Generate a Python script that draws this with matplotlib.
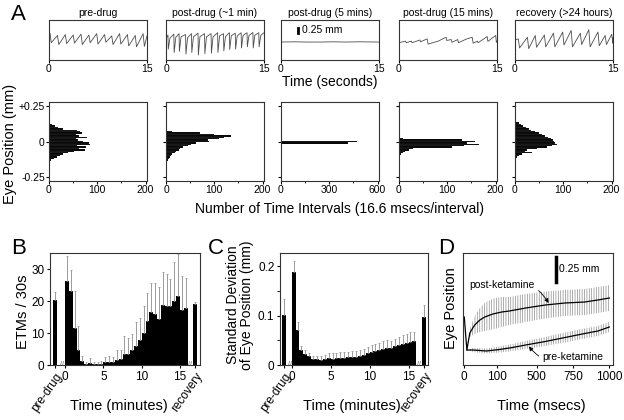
import numpy as np
import matplotlib
matplotlib.use("Agg")
import matplotlib.pyplot as plt
from matplotlib.transforms import blended_transform_factory

plt.rcParams['font.family'] = ['Liberation Sans', 'DejaVu Sans']
plt.rcParams['hatch.linewidth'] = 0.5
plt.rcParams['axes.edgecolor'] = '0.2'
plt.rcParams['xtick.direction'] = 'out'
plt.rcParams['ytick.direction'] = 'out'

# ---------------- data ----------------
trace_titles = ['pre-drug', 'post-drug (~1 min)', 'post-drug (5 mins)',
                'post-drug (15 mins)', 'recovery (>24 hours)']

# pre-drug sawtooth: time of each fast drop, position before / after it (mm)
pre_drop_t = [0.15, 1.3, 2.5, 3.7, 4.9, 6.1, 7.3, 8.5, 9.6, 10.8, 12.0, 13.2, 14.4]
pre_peak = [0.30, 0.20, 0.24, 0.22, 0.26, 0.22, 0.28, 0.24, 0.18, 0.28, 0.24, 0.20, 0.28]
pre_trough = [-0.12, -0.20, -0.16, -0.14, -0.20, -0.12, -0.18, -0.10, -0.20, -0.18, -0.26, -0.30, -0.28]

# post-drug ~1 min: deep drops with quick curved recovery
p1_drop_t = [0.3, 1.2, 2.0, 3.0, 3.9, 4.9, 5.9, 6.9, 7.9, 8.8, 9.7, 10.6, 11.5, 12.4, 13.3, 14.2]
p1_peak = [0.22, 0.26, 0.28, 0.24, 0.28, 0.30, 0.28, 0.28, 0.32, 0.28, 0.32, 0.30, 0.32, 0.32, 0.33, 0.32]
p1_knee = [0.08, 0.12, 0.14, 0.10, 0.14, 0.15, 0.14, 0.14, 0.18, 0.15, 0.19, 0.18, 0.20, 0.20, 0.21, 0.20]
p1_trough = [-0.40, -0.55, -0.50, -0.62, -0.55, -0.66, -0.60, -0.58, -0.55, -0.48, -0.42, -0.40, -0.35, -0.30, -0.35, -0.30]

# post-drug 5 mins: essentially flat
p5_t = [0, 2, 4, 6, 8, 10, 12, 15]
p5_y = [-0.09, -0.08, -0.09, -0.09, -0.08, -0.09, -0.08, -0.09]

# post-drug 15 mins: small irregular sawtooth
p15_t = [0, 1.0, 1.1, 1.9, 2.0, 3.2, 3.3, 4.3, 4.45, 6.0, 7.2, 7.3, 8.0, 8.1, 9.0, 9.1,
         10.3, 11.2, 11.35, 12.0, 12.1, 13.5, 13.6, 14.8, 14.9, 15]
p15_y = [-0.12, -0.05, -0.12, -0.05, -0.12, 0.0, -0.08, 0.05, -0.18, -0.05, 0.12, -0.02,
         0.02, -0.10, 0.02, -0.12, 0.04, 0.12, -0.14, -0.05, -0.12, 0.15, -0.06, 0.20, -0.10, -0.05]

# recovery sawtooth
rec_drop_t = [0.5, 1.9, 3.1, 4.5, 5.9, 7.3, 8.6, 10.0, 11.3, 12.7, 13.8, 14.8]
rec_peak = [0.05, 0.12, 0.20, 0.22, 0.30, 0.35, 0.42, 0.30, 0.45, 0.35, 0.20, 0.25]
rec_trough = [-0.35, -0.38, -0.32, -0.30, -0.30, -0.22, -0.30, -0.20, -0.30, -0.25, -0.20, -0.15]

# histograms of eye position (counts per 0.01 mm bin, listed top to bottom)
h_pre = [6, 12, 18, 30, 58, 64, 68, 55, 62, 78, 56, 60, 70, 82, 84, 58, 76, 62, 74, 52,
         40, 30, 22, 16, 10, 5]
h_post1 = [12, 70, 100, 135, 120, 110, 88, 90, 62, 52, 45, 36, 30, 26, 20, 18, 12, 10, 8,
           6, 5, 3, 3, 1, 2]
h_post5 = [6, 470, 415, 5]
h_post15 = [8, 130, 158, 140, 165, 135, 110, 30, 20, 12, 8, 4]
h_rec = [3, 8, 12, 17, 22, 28, 34, 42, 50, 56, 62, 68, 74, 78, 80, 82, 86, 76, 66, 45,
         25, 20, 36, 15, 8, 4, 3]
h_top = [0.12, 0.07, 0.01, 0.02, 0.14]   # position of first (top) bin
h_xmax = [200, 200, 600, 200, 200]

# B: ETMs per 30 s bin (0-16 min), mean and upper error
etm = [26.3, 23.1, 11.6, 4.8, 1.3, 0.4, 0.5, 0.3, 0.2, 0.3, 0.8, 0.9, 0.8, 1.6, 2.0, 3.6,
       3.4, 4.6, 5.8, 7.8, 10.1, 13.9, 16.5, 16.0, 14.3, 18.7, 18.6, 18.4, 20.2, 21.5, 17.3, 18.0]
etm_err = [8.0, 6.6, 11.6, 7.4, 1.4, 0.6, 1.7, 0.6, 0.8, 0.8, 1.6, 1.8, 1.6, 3.0, 2.8, 5.4,
           5.2, 5.2, 7.6, 7.0, 8.3, 8.6, 9.2, 9.8, 10.0, 10.4, 10.0, 8.6, 12.2, 13.2, 10.6, 9.4]
etm_pre, etm_pre_err = 20.3, 2.7
etm_rec, etm_rec_err = 19.0, 0.6

# C: SD of eye position (mm)
sd = [0.189, 0.072, 0.030, 0.022, 0.018, 0.013, 0.012, 0.011, 0.012, 0.014, 0.013, 0.015,
      0.015, 0.015, 0.016, 0.016, 0.017, 0.018, 0.021, 0.024, 0.027, 0.029, 0.031, 0.033,
      0.035, 0.035, 0.038, 0.041, 0.043, 0.045, 0.047, 0.048]
sd_err = [0.022, 0.016, 0.009, 0.008, 0.007, 0.006, 0.006, 0.008, 0.009, 0.010, 0.011, 0.010,
          0.011, 0.012, 0.011, 0.012, 0.012, 0.013, 0.012, 0.013, 0.013, 0.014, 0.014, 0.015,
          0.015, 0.014, 0.015, 0.016, 0.017, 0.018, 0.019, 0.018]
sd_pre, sd_pre_err = 0.101, 0.032
sd_rec, sd_rec_err = 0.098, 0.024

# D: mean eye position after saccade (mm) with SE
post_ms = [0, 8, 17, 32, 48, 63, 88, 150, 226, 391, 560, 694, 830, 921, 1000]
post_mm = [0.33, 0.0, 0.17, 0.25, 0.30, 0.33, 0.36, 0.38, 0.39, 0.42, 0.45, 0.47, 0.48, 0.50, 0.52]
post_se = [0, 0, 0.04, 0.09, 0.12, 0.14, 0.155, 0.15, 0.14, 0.14, 0.135, 0.13, 0.13, 0.13, 0.13]
pre_ms = [8, 27, 68, 127, 259, 391, 560, 694, 830, 921, 1000]
pre_mm = [0.0, 0.0, -0.01, 0.005, 0.025, 0.05, 0.085, 0.125, 0.165, 0.19, 0.23]
pre_se = [0.0, 0.02, 0.025, 0.03, 0.035, 0.04, 0.045, 0.05, 0.05, 0.05, 0.05]
d_ticks = [0, 100, 500, 750, 1000]


def sawtooth(drop_t, peak, trough, start, end):
    # join read-off peaks/troughs into one polyline
    t, y = [0], [start]
    for ti, p, tr in zip(drop_t, peak, trough):
        t += [ti, ti + 0.2]
        y += [p, tr]
    t.append(15)
    y.append(end)
    return t, y


def curved(drop_t, peak, knee, trough, start, end):
    t, y = [0], [start]
    for ti, p, k, tr in zip(drop_t, peak, knee, trough):
        t += [ti, ti + 0.05, ti + 0.3]
        y += [p, tr, k]
    t.append(15)
    y.append(end)
    return t, y


traces = [sawtooth(pre_drop_t, pre_peak, pre_trough, 0.25, 0.18),
          curved(p1_drop_t, p1_peak, p1_knee, p1_trough, 0.05, 0.32),
          (p5_t, p5_y),
          (p15_t, p15_y),
          sawtooth(rec_drop_t, rec_peak, rec_trough, 0.0, 0.1)]

fig = plt.figure(figsize=(6.24, 4.2), dpi=100)


def px_axes(x0, y0, x1, y1):
    return fig.add_axes([x0 / 624, 1 - y1 / 420, (x1 - x0) / 624, (y1 - y0) / 420])


col_x = [49, 166, 281, 399, 515]

# ---------------- A: traces ----------------
for i, x0 in enumerate(col_x):
    ax = px_axes(x0, 20, x0 + 98, 60)
    t, y = traces[i]
    ax.plot(t, y, color='0.3', lw=0.6)
    ax.set_xlim(0, 15)
    ax.set_ylim(-0.88, 0.88)
    ax.set_xticks([0, 15])
    ax.set_yticks([])
    ax.tick_params(labelsize=7.5, length=2, pad=1)
    ax.set_title(trace_titles[i], fontsize=7.5, pad=3)
    if i == 2:
        tr = blended_transform_factory(ax.transAxes, ax.transData)
        ax.plot([0.173, 0.173], [0.295, 0.54], color='black', lw=2, transform=tr)
        ax.text(0.21, 0.42, '0.25 mm', fontsize=7.5, va='center', transform=tr)

fig.text(330 / 624, 1 - 82 / 420, 'Time (seconds)', fontsize=10, ha='center', va='center')

# ---------------- A: histograms ----------------
hists = [h_pre, h_post1, h_post5, h_post15, h_rec]
for i, x0 in enumerate(col_x):
    ax = px_axes(x0, 102, x0 + 98, 181)
    counts = hists[i]
    pos = np.round(h_top[i] - 0.01 * np.arange(len(counts)), 3)
    ax.barh(pos, counts, height=0.01, color='black', edgecolor='white', linewidth=0.05)
    xm = h_xmax[i]
    ax.set_xlim(0, xm * 1.015)
    ax.set_ylim(-0.28, 0.28)
    ax.set_xticks([0, xm / 2, xm])
    ax.set_xticklabels(['0', str(xm // 2), str(xm)])
    ax.set_xticks([xm / 4, 3 * xm / 4], minor=True)
    ax.set_yticks([-0.25, 0, 0.25])
    if i == 0:
        ax.set_yticklabels(['-0.25', '0', '+0.25'])
    else:
        ax.set_yticklabels([])
    ax.tick_params(labelsize=7.5, length=2, pad=1)
    ax.tick_params(which='minor', length=1.5)

fig.text(340 / 624, 1 - 209 / 420, 'Number of Time Intervals (16.6 msecs/interval)',
         fontsize=10, ha='center', va='center')
fig.text(10 / 624, 1 - 144 / 420, 'Eye Position (mm)', fontsize=10.5,
         rotation=90, ha='center', va='center')

t_bins = np.arange(0, 16, 0.5)
PRE_B, REC_B = -1.35, 17.0
PRE_C, REC_C = -1.03, 17.0


def time_panel(ax, vals, errs, pre, pre_err, rec, rec_err, pre_x, rec_x):
    ax.bar(t_bins, vals, width=0.5, align='edge', color='black', linewidth=0)
    ax.bar([pre_x, rec_x], [pre, rec], width=0.5, color='black', linewidth=0)
    xs = list(t_bins + 0.25) + [pre_x, rec_x]
    ys = list(vals) + [pre, rec]
    es = list(errs) + [pre_err, rec_err]
    ax.errorbar(xs, ys, yerr=[np.zeros(len(es)), es], fmt='none', ecolor='0.55',
                elinewidth=0.6, capsize=1.0, capthick=0.5)
    ax.set_xticks([pre_x, 0, 5, 10, 15, rec_x])
    labels = ax.set_xticklabels(['pre-drug', '0', '5', '10', '15', 'recovery'])
    for lab in (labels[0], labels[-1]):
        lab.set_rotation(55)
        lab.set_ha('right')
        lab.set_rotation_mode('anchor')
        lab.set_fontsize(8)
    ax.tick_params(labelsize=8.5, length=2.5, pad=1.5)
    tr = blended_transform_factory(ax.transData, ax.transAxes)
    for bx in [(pre_x + 0.25 + 0) / 2 + 0.15, 16.3]:
        ax.text(bx, 0, '//', fontsize=5, color='0.35', ha='center', va='center',
                transform=tr, clip_on=False)


# ---------------- B ----------------
axB = px_axes(50, 252.7, 200, 365)
time_panel(axB, etm, etm_err, etm_pre, etm_pre_err, etm_rec, etm_rec_err, PRE_B, REC_B)
axB.set_xlim(-1.96, 17.6)
axB.set_ylim(0, 35.2)
axB.set_yticks([0, 10, 20, 30])
fig.text(23 / 624, 1 - 312 / 420, 'ETMs / 30s', fontsize=10.5, rotation=90,
         ha='center', va='center')
fig.text(119 / 624, 1 - 406 / 420, 'Time (minutes)', fontsize=10.5, ha='center', va='center')

# ---------------- C ----------------
axC = px_axes(280, 252.7, 428, 365)
time_panel(axC, sd, sd_err, sd_pre, sd_pre_err, sd_rec, sd_rec_err, PRE_C, REC_C)
axC.set_xlim(-1.5, 17.5)
axC.set_ylim(0, 0.228)
axC.set_yticks([0, 0.1, 0.2])
axC.set_yticklabels(['0', '0.1', '0.2'])
axC.set_yticks([0.05, 0.15], minor=True)
axC.tick_params(which='minor', length=2)
fig.text(240 / 624, 1 - 305 / 420, 'Standard Deviation\nof Eye Position (mm)', fontsize=10,
         rotation=90, ha='center', va='center', linespacing=1.0)
fig.text(352 / 624, 1 - 406 / 420, 'Time (minutes)', fontsize=10.5, ha='center', va='center')

# ---------------- D ----------------
D_MS = [-100, 0, 100, 500, 750, 1000, 1100]
D_POS = [-33, 0, 33, 73.4, 110.7, 147.4, 184.1]


def fwd(x):
    return np.interp(x, D_MS, D_POS)


def inv(p):
    return np.interp(p, D_POS, D_MS)


axD = px_axes(463.3, 252.7, 613.3, 365)
axD.set_xscale('function', functions=(fwd, inv))
pm, pv, pe = np.array(post_ms), np.array(post_mm), np.array(post_se)
qm, qv, qe = np.array(pre_ms), np.array(pre_mm), np.array(pre_se)
axD.fill_between(pm[2:], pv[2:] - pe[2:], pv[2:] + pe[2:], facecolor='none',
                 edgecolor='0.55', hatch='|' * 7, linewidth=0)
axD.fill_between(qm, qv - qe, qv + qe, facecolor='none', edgecolor='0.55',
                 hatch='|' * 7, linewidth=0)
axD.plot(pm, pv, color='black', lw=0.9)
axD.plot(qm, qv, color='black', lw=0.9)
axD.set_xlim(-3, 1011)
axD.set_ylim(-0.15, 0.973)
axD.set_xticks(d_ticks)
axD.set_xticklabels([str(v) for v in d_ticks])
axD.set_xticks([], minor=True)
axD.set_yticks([])
axD.tick_params(labelsize=8.5, length=2.5, pad=1.5)
trD = blended_transform_factory(axD.transAxes, axD.transData)
axD.plot([0.615, 0.615], [0.683, 0.933], color='black', lw=2.5, transform=trD)
axD.text(0.638, 0.81, '0.25 mm', fontsize=7.5, va='center', transform=trD)
axD.annotate('post-ketamine', xy=(582, 0.47), xytext=(483, 0.65), ha='right', va='center',
             fontsize=7.5, arrowprops=dict(arrowstyle='-|>', connectionstyle='arc3,rad=-0.4',
                                           color='black', lw=0.6, mutation_scale=6,
                                           shrinkA=1, shrinkB=0))
axD.annotate('pre-ketamine', xy=(424, 0.035), xytext=(542, -0.07), ha='left', va='center',
             fontsize=7.5, arrowprops=dict(arrowstyle='-|>', connectionstyle='arc3,rad=-0.4',
                                           color='black', lw=0.6, mutation_scale=6,
                                           shrinkA=1, shrinkB=0))
fig.text(451 / 624, 1 - 308 / 420, 'Eye Position', fontsize=10.5, rotation=90,
         ha='center', va='center')
fig.text(541 / 624, 1 - 406 / 420, 'Time (msecs)', fontsize=10.5, ha='center', va='center')

# panel letters
for letter, (lx, ly) in zip('ABCD', [(18, 15), (19, 249), (216, 249), (446, 249)]):
    fig.text(lx / 624, 1 - ly / 420, letter, fontsize=16, ha='center', va='center')

fig.savefig('out.png', dpi=100)
